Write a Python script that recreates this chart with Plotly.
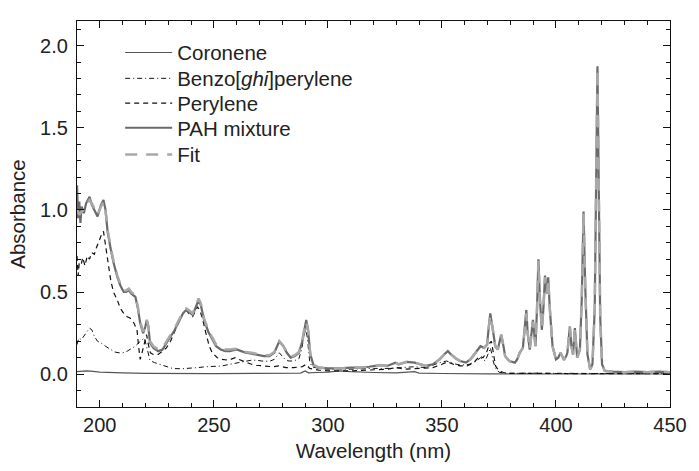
import plotly.graph_objects as go

# ---------------- data ----------------
pah_wl = [190, 190.5, 191, 191.5, 192, 193, 194, 195.5, 196.5, 197.5, 199, 200.5, 201.6, 202.5,
          203.4, 204.8, 206, 207.7, 209, 210.5, 211.5, 212.7, 213.8, 215.6, 216.7, 217.7, 219,
          220, 220.6, 221.3, 222, 223.5, 225.6, 227.5, 229, 230.6, 232.5, 234.9, 236.5, 237.8,
          239, 240.7, 242, 243.3, 244.3, 245.7, 247.5, 249.3, 251, 253, 255, 257, 260, 262, 264,
          266.5, 269, 272, 274.4, 276.5, 278.7, 280.5, 282, 283.7, 285.5, 287.3, 288.8, 289.8,
          290.5, 291.3, 292.3, 293.7, 296, 300, 305, 310, 314.6, 318, 323, 326, 329.6, 331,
          334.6, 338, 340.4, 343, 346, 349, 351, 352.6, 354, 356.2, 358, 360.5, 362.5, 364.8,
          366.9, 368.5, 369.8, 370.5, 371.2, 372, 373.4, 374.5, 376, 377, 377.7, 379.5, 382,
          383, 384.1, 385.5, 386.5, 387, 387.6, 388.5, 389.9, 391, 391.7, 392.3, 393, 393.8,
          394.5, 395.2, 396, 396.6, 397.3, 398.5, 400, 401, 402, 403, 403.5, 404.5, 405, 406.1,
          406.8, 407.5, 408.3, 409.3, 410.5, 411.3, 412.1, 412.8, 413.8, 415, 416, 417, 417.6,
          418.2, 418.8, 419.4, 420.2, 421.4, 425, 430, 435, 440, 445, 450]
pah_abs = [1.15, 0.95, 1.05, 0.92, 1.02, 0.98, 1.04, 1.08, 1.03, 1.00, 0.96, 1.03, 1.06, 1.00,
           0.87, 0.76, 0.68, 0.59, 0.54, 0.50, 0.50, 0.51, 0.49, 0.47, 0.40, 0.31, 0.25,
           0.29, 0.33, 0.29, 0.19, 0.16, 0.14, 0.15, 0.18, 0.22, 0.26, 0.33, 0.37, 0.39,
           0.38, 0.36, 0.40, 0.45, 0.42, 0.33, 0.26, 0.21, 0.17, 0.15, 0.14, 0.14, 0.15, 0.14, 0.13,
           0.125, 0.12, 0.11, 0.11, 0.13, 0.20, 0.17, 0.13, 0.10, 0.11, 0.13, 0.20, 0.29,
           0.33, 0.27, 0.12, 0.055, 0.04, 0.035, 0.035, 0.04, 0.04, 0.045, 0.055, 0.05, 0.07, 0.06,
           0.075, 0.07, 0.06, 0.05, 0.06, 0.09, 0.12, 0.14, 0.12, 0.094, 0.08, 0.07, 0.09, 0.13,
           0.17, 0.16, 0.18, 0.28, 0.37, 0.30, 0.17, 0.15, 0.24, 0.17, 0.11, 0.08, 0.07,
           0.09, 0.13, 0.16, 0.30, 0.39, 0.25, 0.15, 0.33, 0.17, 0.40, 0.70, 0.45, 0.27,
           0.40, 0.60, 0.49, 0.59, 0.40, 0.17, 0.09, 0.10, 0.13, 0.10, 0.087, 0.11, 0.13, 0.29,
           0.17, 0.12, 0.28, 0.10, 0.15, 0.45, 0.99, 0.55, 0.12, 0.03, 0.06, 0.40, 1.20,
           1.875, 1.10, 0.35, 0.06, 0.02, 0.015, 0.012, 0.015, 0.012, 0.015, 0.012]

fit_wl = [190, 191, 192, 193, 194, 195.5, 196.5, 197.5, 199, 200.5, 201.6, 202.5,
          203.4, 204.8, 206, 207.7, 209, 210.5, 211.5, 212.7, 213.8, 215.6, 216.7, 217.7, 219,
          220, 220.6, 221.3, 222, 223.5, 225.6, 227.5, 229, 230.6, 232.5, 234.9, 236.5, 237.8,
          239, 240.7, 242, 243.3, 244.3, 245.7, 247.5, 249.3, 251, 253, 255, 257, 260, 262, 264,
          266.5, 269, 272, 274.4, 276.5, 278.7, 280.5, 282, 283.7, 285.5, 287.3, 288.8, 289.8,
          290.5, 291.3, 292.3, 293.7, 296, 300, 305, 310, 314.6, 318, 323, 326, 329.6, 331,
          334.6, 338, 340.4, 343, 346, 349, 351, 352.6, 354, 356.2, 358, 360.5, 362.5, 364.8,
          366.9, 368.5, 369.8, 370.5, 371.2, 372, 373.4, 374.5, 376, 377, 377.7, 379.5, 382,
          383, 384.1, 385.5, 386.5, 387, 387.6, 388.5, 389.9, 391, 391.7, 392.3, 393, 393.8,
          394.5, 395.2, 396, 396.6, 397.3, 398.5, 400, 401, 402, 403, 403.5, 404.5, 405, 406.1,
          406.8, 407.5, 408.3, 409.3, 410.5, 411.3, 412.1, 412.8, 413.8, 415, 416, 417, 417.6,
          418.2, 418.8, 419.4, 420.2, 421.4, 425, 430, 435, 440, 445, 450]
fit_abs = [1.00, 0.97, 0.99, 1.00, 1.03, 1.06, 1.04, 1.01, 0.97, 1.02, 1.05, 1.00,
           0.88, 0.77, 0.69, 0.60, 0.55, 0.51, 0.51, 0.52, 0.50, 0.48, 0.41, 0.32, 0.26,
           0.29, 0.33, 0.29, 0.20, 0.17, 0.15, 0.16, 0.19, 0.23, 0.27, 0.34, 0.38, 0.40,
           0.39, 0.37, 0.41, 0.46, 0.43, 0.34, 0.27, 0.22, 0.18, 0.16, 0.15, 0.15, 0.155, 0.145, 0.135,
           0.13, 0.125, 0.115, 0.115, 0.135, 0.20, 0.17, 0.135, 0.105, 0.115, 0.135, 0.20, 0.29,
           0.32, 0.27, 0.12, 0.055, 0.04, 0.035, 0.035, 0.04, 0.04, 0.045, 0.055, 0.05, 0.07, 0.06,
           0.075, 0.07, 0.06, 0.05, 0.06, 0.09, 0.12, 0.14, 0.12, 0.094, 0.08, 0.07, 0.09, 0.13,
           0.17, 0.16, 0.18, 0.28, 0.36, 0.30, 0.17, 0.15, 0.24, 0.17, 0.11, 0.08, 0.07,
           0.09, 0.13, 0.16, 0.29, 0.37, 0.25, 0.15, 0.32, 0.17, 0.40, 0.69, 0.45, 0.27,
           0.40, 0.59, 0.49, 0.58, 0.40, 0.17, 0.09, 0.10, 0.13, 0.10, 0.087, 0.11, 0.13, 0.29,
           0.17, 0.12, 0.28, 0.10, 0.15, 0.45, 0.98, 0.55, 0.12, 0.03, 0.06, 0.40, 1.20,
           1.86, 1.10, 0.35, 0.06, 0.02, 0.015, 0.012, 0.015, 0.012, 0.015, 0.012]

perylene_wl = [190, 190.5, 191, 191.9, 192.5, 193.5, 194.5, 195.5, 196.5, 197.6, 198.5, 199.8,
               200.8, 201.6, 202.7, 203.8, 204.8, 206, 207.7, 209, 210.5, 212, 213.4, 215, 216.3,
               217, 217.7, 218.5, 219.5, 220.5, 221.3, 222.2, 223.4, 225.6, 227.5, 229.2, 231,
               233, 235, 236.4, 237.8, 239, 240.7, 241.8, 242.8, 243.8, 245, 246.5, 248, 249.3,
               251.5, 253.6, 256.4, 259.3, 261.5, 263.6, 266.5, 268.6, 272, 276, 278.5, 281.6,
               285, 288.7, 290.5, 292, 296, 300, 310, 320, 326, 330, 334, 340, 346, 350, 352.5,
               355, 358, 361, 364, 366.5, 368, 369.5, 371, 371.7, 372.5, 373.5, 375, 377, 380,
               390, 400, 420, 450]
perylene_abs = [0.72, 0.60, 0.68, 0.67, 0.71, 0.66, 0.72, 0.70, 0.74, 0.73, 0.77, 0.82,
                0.85, 0.87, 0.77, 0.66, 0.57, 0.50, 0.45, 0.40, 0.37, 0.35, 0.34, 0.31, 0.27,
                0.17, 0.09, 0.13, 0.19, 0.24, 0.18, 0.13, 0.12, 0.12, 0.14, 0.16, 0.20,
                0.27, 0.33, 0.37, 0.39, 0.37, 0.35, 0.38, 0.41, 0.39, 0.34, 0.25, 0.17, 0.13,
                0.10, 0.09, 0.085, 0.10, 0.085, 0.075, 0.06, 0.054, 0.05, 0.045, 0.05, 0.04,
                0.04, 0.045, 0.06, 0.035, 0.025, 0.02, 0.02, 0.025, 0.03, 0.04, 0.03, 0.035, 0.04,
                0.06, 0.075, 0.06, 0.05, 0.05, 0.07, 0.11, 0.10, 0.13, 0.19, 0.20, 0.12, 0.05,
                0.02, 0.01, 0.005, 0.004, 0.004, 0.003, 0.003]

benzo_wl = [190, 190.8, 191.9, 193, 194.5, 195.5, 196.5, 197.6, 199, 200.5, 202.5, 204.8,
            206.5, 208.4, 210, 212, 214, 215.5, 217, 218.5, 219.5, 220.5, 222, 224, 226.3, 229,
            232, 236, 239.2, 243, 246.4, 250, 253.6, 257, 260.8, 263.5, 266.5, 268.6, 271,
            274.4, 276.5, 278.7, 280, 281.5, 283, 285, 287.3, 288.5, 289.5, 290.3, 291, 292,
            293, 296, 300, 310, 320, 328, 332, 338, 343, 346, 349, 352, 355, 358, 362, 365,
            367, 369, 370.5, 371.3, 372.3, 373.3, 375, 378, 390, 400, 420, 450]
benzo_abs = [0.18, 0.22, 0.21, 0.23, 0.26, 0.28, 0.27, 0.23, 0.20, 0.19, 0.17, 0.15,
             0.135, 0.13, 0.13, 0.14, 0.155, 0.17, 0.19, 0.21, 0.22, 0.17, 0.083, 0.07, 0.06, 0.045,
             0.034, 0.033, 0.035, 0.04, 0.045, 0.047, 0.05, 0.06, 0.07, 0.08, 0.085, 0.085, 0.08,
             0.078, 0.09, 0.13, 0.11, 0.085, 0.08, 0.08, 0.094, 0.15, 0.23, 0.28, 0.22, 0.08,
             0.045, 0.035, 0.03, 0.03, 0.035, 0.035, 0.04, 0.045, 0.04, 0.055, 0.07, 0.08, 0.065,
             0.055, 0.06, 0.08, 0.10, 0.08, 0.13, 0.16, 0.09, 0.04, 0.012, 0.005, 0.006, 0.004,
             0.004, 0.003]

coronene_wl = [190, 192, 194, 196, 200, 210, 220, 250, 280, 288, 290, 291.5, 295, 300, 305,
               310, 320, 330, 338, 340, 350, 370, 450]
coronene_abs = [0.015, 0.018, 0.02, 0.018, 0.012, 0.008, 0.005, 0.003, 0.003, 0.006, 0.02,
                0.008, 0.01, 0.012, 0.02, 0.015, 0.01, 0.008, 0.015, 0.006, 0.004, 0.002, 0.001]

series_names = ["Coronene", "Benzo[<i>ghi</i>]perylene", "Perylene", "PAH mixture", "Fit"]

# ---------------- figure ----------------
FONT = "Liberation Sans, Arial, Helvetica, sans-serif"
TXT = "#222222"
fig = go.Figure()

fig.add_trace(go.Scatter(x=coronene_wl, y=coronene_abs, mode="lines", name=series_names[0],
                         legend="legend",
                         line=dict(color="#555555", width=1.2)))
fig.add_trace(go.Scatter(x=benzo_wl, y=benzo_abs, mode="lines", name=series_names[1],
                         legend="legend2",
                         line=dict(color="#111111", width=1, dash="5px,3px,1px,3px")))
fig.add_trace(go.Scatter(x=perylene_wl, y=perylene_abs, mode="lines", name=series_names[2],
                         legend="legend3",
                         line=dict(color="#111111", width=1.2, dash="5px,4px")))
fig.add_trace(go.Scatter(x=pah_wl, y=pah_abs, mode="lines", name=series_names[3],
                         legend="legend4",
                         line=dict(color="#6b6b6b", width=2.2)))
fig.add_trace(go.Scatter(x=fit_wl, y=fit_abs, mode="lines", name=series_names[4],
                         legend="legend5",
                         line=dict(color="#a8a8a8", width=2.5, dash="12px,9px")))

axis_common = dict(
    showline=True, linecolor="#111111", linewidth=1.3, mirror="ticks",
    ticks="inside", ticklen=7, tickwidth=1.2, tickcolor="#111111",
    showgrid=False, zeroline=False,
    tickfont=dict(family=FONT, size=20, color=TXT),
)

fig.update_xaxes(range=[190, 450], dtick=50, tick0=200,
                 minor=dict(dtick=10, ticks="inside", ticklen=4, tickcolor="#111111", tickwidth=1),
                 title=dict(text="Wavelength (nm)", font=dict(family=FONT, size=20.5, color=TXT),
                            standoff=8),
                 **axis_common)
fig.update_yaxes(range=[-0.2, 2.15], dtick=0.5, tick0=0, tickformat=".1f",
                 ticklabelstandoff=4,
                 minor=dict(dtick=0.1, ticks="inside", ticklen=4, tickcolor="#111111", tickwidth=1),
                 title=dict(text="Absorbance", font=dict(family=FONT, size=20.5, color=TXT),
                            standoff=8),
                 **axis_common)

leg_common = dict(x=0.0728, xanchor="left", yanchor="middle",
                  bgcolor="rgba(0,0,0,0)", borderwidth=0,
                  font=dict(family=FONT, size=20.5, color=TXT), itemwidth=47)
legend_rows = [0.918, 0.851, 0.787, 0.723, 0.654]

fig.update_layout(
    width=699, height=471,
    margin=dict(l=77, r=18, t=21, b=59),
    paper_bgcolor="white", plot_bgcolor="white",
    font=dict(family=FONT, size=20, color=TXT),
    showlegend=True,
    legend=dict(y=legend_rows[0], **leg_common),
    legend2=dict(y=legend_rows[1], **leg_common),
    legend3=dict(y=legend_rows[2], **leg_common),
    legend4=dict(y=legend_rows[3], **leg_common),
    legend5=dict(y=legend_rows[4], **leg_common),
)

fig.write_html("out.html")
